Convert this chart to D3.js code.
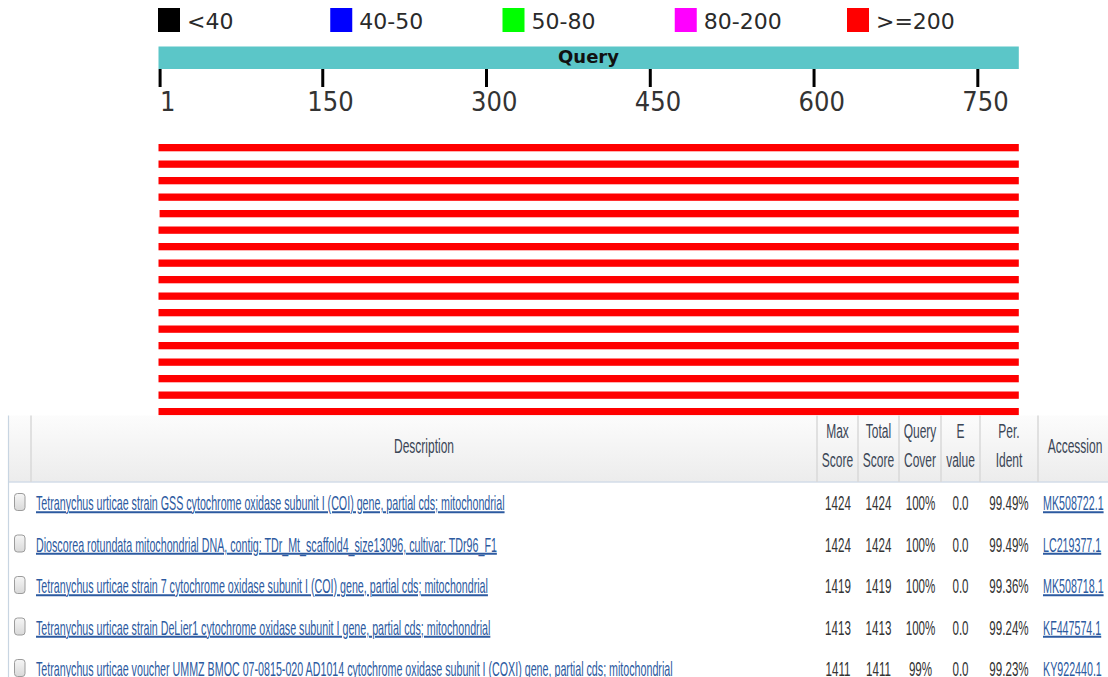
<!DOCTYPE html>
<html>
<head>
<meta charset="utf-8">
<script src="https://cdn.jsdelivr.net/npm/d3@7"></script>
<style>
  html, body { margin: 0; padding: 0; background: #ffffff; }
  svg { display: block; }
</style>
</head>
<body>
<svg id="chart" width="1108" height="677"></svg>
<script>
// Score bins shown in the colour key
const legendLabels = ["<40", "40-50", "50-80", "80-200", ">=200"];
const legendColors = ["#000000", "#0000ff", "#00ff00", "#ff00ff", "#ff0000"];
const scoreThresholds = [40, 50, 80, 200];

// Query sequence and its ruler
const queryLength = 788;
const axisTicks = [1, 150, 300, 450, 600, 750];

// Aligned hits (query coordinates and max score)
const hitStarts = [1, 1, 1, 1, 2, 1, 1, 1, 1, 1, 1, 1, 1, 1, 1, 1, 1];
const hitEnds   = [788, 788, 788, 788, 788, 788, 788, 788, 788, 788, 788, 788, 788, 788, 788, 788, 788];
const hitScores = [1424, 1424, 1419, 1413, 1411, 1408, 1408, 1402, 1400, 1397, 1395, 1391, 1389, 1386, 1386, 1384, 1380];

// Result table
const columnHeaders = [["Description"], ["Max", "Score"], ["Total", "Score"], ["Query", "Cover"], ["E", "value"], ["Per.", "Ident"], ["Accession"]];
const descriptions = [
  "Tetranychus urticae strain GSS cytochrome oxidase subunit I (COI) gene, partial cds; mitochondrial",
  "Dioscorea rotundata mitochondrial DNA, contig: TDr_Mt_scaffold4_size13096, cultivar: TDr96_F1",
  "Tetranychus urticae strain 7 cytochrome oxidase subunit I (COI) gene, partial cds; mitochondrial",
  "Tetranychus urticae strain DeLier1 cytochrome oxidase subunit I gene, partial cds; mitochondrial",
  "Tetranychus urticae voucher UMMZ BMOC 07-0815-020 AD1014 cytochrome oxidase subunit I (COXI) gene, partial cds; mitochondrial"
];
const maxScores   = [1424, 1424, 1419, 1413, 1411];
const totalScores = [1424, 1424, 1419, 1413, 1411];
const queryCover  = ["100%", "100%", "100%", "100%", "99%"];
const eValues     = ["0.0", "0.0", "0.0", "0.0", "0.0"];
const perIdent    = ["99.49%", "99.49%", "99.36%", "99.24%", "99.23%"];
const accessions  = ["MK508722.1", "LC219377.1", "MK508718.1", "KF447574.1", "KY922440.1"];

const svg = d3.select("#chart");
const defs = svg.append("defs");

const x = d3.scaleLinear().domain([0, queryLength]).range([158.5, 1018.8]);
const color = d3.scaleThreshold().domain(scoreThresholds).range(legendColors);

// ---- colour key ----
const legendX = d3.scalePoint().domain(legendLabels).range([158, 847]);
const legend = svg.append("g").selectAll("g").data(legendLabels).join("g")
  .attr("transform", d => `translate(${legendX(d)},8)`);
legend.append("rect")
  .attr("width", 22).attr("height", 24)
  .attr("fill", (d, i) => legendColors[i]);
legend.append("text")
  .attr("x", 29).attr("y", 20.5)
  .attr("font-family", "'DejaVu Sans', Verdana, sans-serif")
  .attr("font-size", 22)
  .attr("fill", "#2a2a2a")
  .text(d => d);

// ---- query bar ----
svg.append("rect")
  .attr("x", x(0)).attr("y", 46.5)
  .attr("width", x(queryLength) - x(0)).attr("height", 22.5)
  .attr("fill", "#5bc6c8");
svg.append("text")
  .attr("x", 588.5).attr("y", 63)
  .attr("text-anchor", "middle")
  .attr("font-family", "'DejaVu Sans', Verdana, sans-serif")
  .attr("font-weight", "bold")
  .attr("font-size", 18)
  .attr("fill", "#111")
  .text("Query");

// ---- ruler ----
const axis = d3.axisBottom(x).tickValues(axisTicks).tickSize(18).tickPadding(6).tickFormat(d3.format("d"));
const axisG = svg.append("g").attr("transform", "translate(0,69)").call(axis);
axisG.select(".domain").remove();
axisG.selectAll(".tick line").attr("stroke", "#000").attr("stroke-width", 3);
axisG.selectAll(".tick text")
  .attr("dx", 7.7).attr("y", 42).attr("dy", 0)
  .attr("font-family", "'DejaVu Sans Condensed', 'DejaVu Sans', sans-serif")
  .attr("font-stretch", "condensed")
  .attr("font-size", 27)
  .attr("fill", "#333");

// ---- hit bars ----
const hits = hitStarts.map((s, i) => ({ start: s, end: hitEnds[i], score: hitScores[i] }));
const y = d3.scaleLinear().domain([0, 1]).range([144, 160.5]);
svg.append("g").selectAll("rect").data(hits).join("rect")
  .attr("x", d => x(d.start - 1))
  .attr("y", (d, i) => y(i))
  .attr("width", d => x(d.end) - x(d.start - 1))
  .attr("height", 7.3)
  .attr("fill", d => color(d.score));

// ---- results table ----
const table = svg.append("g");
const tableTop = 415.5, headBottom = 482;
const colEdges = [31, 817, 858, 899, 941, 980, 1038, 1108];
const fontFamily = "'Liberation Sans', Arial, sans-serif";
const fontSize = 20;
const sxHead = 0.6, sxCell = 0.58, sxLink = 0.535;

const grad = defs.append("linearGradient").attr("id", "headGrad").attr("x1", 0).attr("y1", 0).attr("x2", 0).attr("y2", 1);
grad.append("stop").attr("offset", "0%").attr("stop-color", "#fcfcfc");
grad.append("stop").attr("offset", "100%").attr("stop-color", "#ececec");
const boxGrad = defs.append("linearGradient").attr("id", "boxGrad").attr("x1", 0).attr("y1", 0).attr("x2", 0).attr("y2", 1);
boxGrad.append("stop").attr("offset", "0%").attr("stop-color", "#f6f6f6");
boxGrad.append("stop").attr("offset", "100%").attr("stop-color", "#d9d9d9");

table.append("rect").attr("x", 0).attr("y", tableTop).attr("width", 1108).attr("height", 677 - tableTop).attr("fill", "#fff");
table.append("rect").attr("x", 9).attr("y", tableTop).attr("width", 1099).attr("height", headBottom - tableTop).attr("fill", "url(#headGrad)");
table.append("line").attr("x1", 9).attr("x2", 1108).attr("y1", headBottom).attr("y2", headBottom).attr("stroke", "#d3dde8").attr("stroke-width", 1.5);
table.append("line").attr("x1", 8.5).attr("x2", 8.5).attr("y1", tableTop).attr("y2", 677).attr("stroke", "#c8d5e2").attr("stroke-width", 1.2);
table.selectAll(".divider").data(colEdges.slice(0, -1)).join("line")
  .attr("class", "divider")
  .attr("x1", d => d).attr("x2", d => d)
  .attr("y1", tableTop).attr("y2", headBottom)
  .attr("stroke", "#d8d8d8").attr("stroke-width", 1.5);

function label(g, tx, ty, str, anchor, fill, sx, underline) {
  return g.append("text")
    .attr("transform", `translate(${tx},${ty}) scale(${sx},1)`)
    .attr("text-anchor", anchor)
    .attr("font-family", fontFamily)
    .attr("font-size", fontSize)
    .attr("fill", fill)
    .attr("text-decoration", underline ? "underline" : null)
    .text(str);
}

// header labels
const headColor = "#3b4656";
columnHeaders.forEach((lines, c) => {
  const cx = (colEdges[c] + colEdges[c + 1]) / 2 + (c === 6 ? 2 : 0);
  if (lines.length === 1) {
    label(table, cx, 453, lines[0], "middle", headColor, sxHead);
  } else {
    label(table, cx, 438, lines[0], "middle", headColor, sxHead);
    label(table, cx, 467, lines[1], "middle", headColor, sxHead);
  }
});

// rows
const rowY = d3.scaleLinear().domain([0, 1]).range([510, 551.5]);
const linkColor = "#2c5aa0", cellColor = "#333";
descriptions.forEach((desc, i) => {
  const by = rowY(i);
  table.append("rect")
    .attr("x", 14.5).attr("y", by - 16.5).attr("width", 10.5).attr("height", 17).attr("rx", 3)
    .attr("fill", "url(#boxGrad)").attr("stroke", "#9c9c9c").attr("stroke-width", 1);
  label(table, 36, by, desc, "start", linkColor, sxLink, true);
  label(table, 838, by, String(maxScores[i]), "middle", cellColor, sxCell);
  label(table, 878.5, by, String(totalScores[i]), "middle", cellColor, sxCell);
  label(table, 920.5, by, queryCover[i], "middle", cellColor, sxCell);
  label(table, 960.5, by, eValues[i], "middle", cellColor, sxCell);
  label(table, 1009, by, perIdent[i], "middle", cellColor, sxCell);
  label(table, 1043, by, accessions[i], "start", linkColor, sxLink, true);
});
</script>
</body>
</html>
